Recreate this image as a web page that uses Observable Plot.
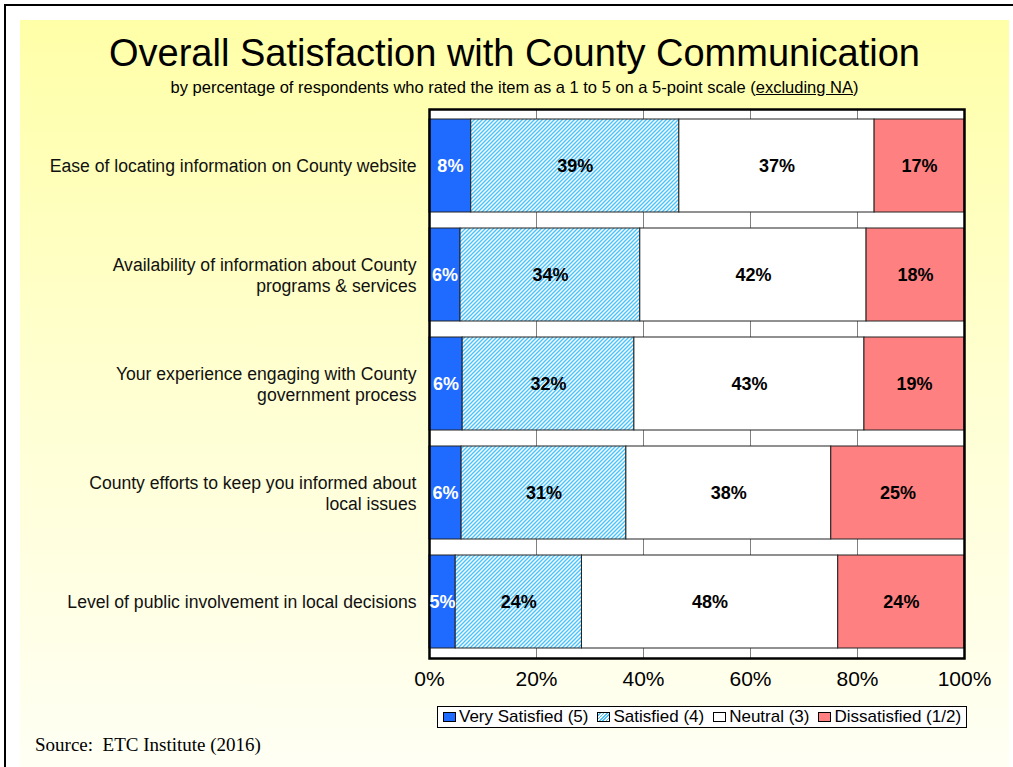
<!DOCTYPE html>
<html><head><meta charset="utf-8">
<script src="https://cdn.jsdelivr.net/npm/d3@7"></script>
<script src="https://cdn.jsdelivr.net/npm/@observablehq/plot@0.6"></script>
<style>
html,body{margin:0;padding:0;background:#fff;}
#wrap{position:relative;width:1013px;height:767px;overflow:hidden;font-family:"Liberation Sans",Arial,sans-serif;color:#000;}
#bg{position:absolute;left:20px;top:20px;width:989px;height:747px;background:linear-gradient(to bottom,#FFFFA8 0%,#FFFFD2 50%,#FFFFF4 100%);}
#bt{position:absolute;left:4px;top:4px;width:1009px;height:2px;background:#000;}
#bl{position:absolute;left:4px;top:4px;width:2px;height:763px;background:#000;}
#title{position:absolute;left:20px;width:989px;top:34px;text-align:center;font-size:38px;line-height:38px;white-space:nowrap;}
#sub{position:absolute;left:20px;width:989px;top:79px;text-align:center;font-size:16.5px;line-height:16.5px;white-space:nowrap;}
#chart{position:absolute;left:0;top:90px;}
#chart svg [aria-label^="x-axis"] text{font-size:21px;}
#legend{position:absolute;left:437px;top:706px;width:530px;height:22px;box-sizing:border-box;border:1px solid #000;background:#fff;display:flex;align-items:center;padding-left:5px;font-size:17px;white-space:nowrap;}
#legend .item{display:flex;align-items:center;margin-right:9px;}
#legend .sw{width:13px;height:10px;border:1px solid #000;margin-right:3px;box-sizing:border-box;}
#source{position:absolute;left:35px;top:735px;font-family:"Liberation Serif","Times New Roman",serif;font-size:19px;line-height:20px;white-space:nowrap;}
</style>
</head><body>
<div id="wrap">
  <div id="bg"></div><div id="bt"></div><div id="bl"></div>
  <div id="title">Overall Satisfaction with County Communication</div>
  <div id="sub">by percentage of respondents who rated the item as a 1 to 5 on a 5-point scale (<u>excluding NA</u>)</div>
  <div id="chart"></div>
  <div id="legend"></div>
  <div id="source">Source:&nbsp; ETC Institute (2016)</div>
</div>
<script>
const items = [
  "Ease of locating information on County website",
  "Availability of information about County\nprograms & services",
  "Your experience engaging with County\ngovernment process",
  "County efforts to keep you informed about\nlocal issues",
  "Level of public involvement in local decisions"
];
const categories = ["Very Satisfied (5)", "Satisfied (4)", "Neutral (3)", "Dissatisfied (1/2)"];
const verySatisfied = [7.8, 5.8, 6.2, 6.0, 4.9];
const satisfied     = [38.9, 33.6, 32.1, 30.8, 23.6];
const neutral       = [36.5, 42.3, 43.0, 38.3, 47.9];
const dissatisfied  = [16.8, 18.3, 18.7, 24.9, 23.6];
const xTicks = [0, 20, 40, 60, 80, 100];
const gridTicks = [20, 40, 60, 80];

const colors = ["#1F6BFF", "url(#hatch)", "#FFFFFF", "#FF8080"];
const series = [verySatisfied, satisfied, neutral, dissatisfied];
const rows = [];
items.forEach((item, i) => {
  categories.forEach((cat, j) => rows.push({item, cat, value: series[j][i]}));
});
const fmt = v => Math.round(v) + "%";

const chart = Plot.plot({
  width: 1013, height: 620,
  marginLeft: 429, marginRight: 49, marginTop: 19, marginBottom: 52,
  style: {background: "transparent", fontFamily: "'Liberation Sans', Arial, sans-serif", fontSize: "21px", overflow: "visible", color: "#000"},
  x: {domain: [0, 100], ticks: xTicks, tickFormat: d => d + "%", tickSize: 0, tickPadding: 13, label: null},
  y: {domain: items, axis: null, paddingInner: 0.15, paddingOuter: 0.08},
  color: {domain: categories, range: colors},
  marks: [
    Plot.frame({fill: "#fff", stroke: "none"}),
    Plot.ruleX(gridTicks, {stroke: "#808080", strokeWidth: 1}),
    Plot.barX(rows, Plot.stackX({x: "value", y: "item", fill: "cat", stroke: "#222", strokeWidth: 1})),
    Plot.frame({stroke: "#000", strokeWidth: 2.5}),
    Plot.text(rows, Plot.stackX({x: "value", y: "item", z: "cat",
      text: d => d.cat === categories[0] ? fmt(d.value) : null,
      fill: "white", fontWeight: "bold", fontSize: 18})),
    Plot.text(rows, Plot.stackX({x: "value", y: "item", z: "cat",
      text: d => d.cat !== categories[0] ? fmt(d.value) : null,
      fill: "black", fontWeight: "bold", fontSize: 18})),
    Plot.text(items, {y: d => d, text: d => d, frameAnchor: "left", textAnchor: "end", dx: -13,
      fontSize: 17.6, lineHeight: 1.15, fill: "#111"})
  ]
});

const svg = d3.select(chart);
const defs = svg.insert("defs", ":first-child");
const pat = defs.append("pattern").attr("id", "hatch").attr("patternUnits", "userSpaceOnUse")
  .attr("width", 4).attr("height", 4);
pat.append("rect").attr("width", 4).attr("height", 4).attr("fill", "#fff");
pat.append("path").attr("d", "M-1,1 l2,-2 M0,4 l4,-4 M3,5 l2,-2")
  .attr("stroke", "#45C2FF").attr("stroke-width", 1.4);
document.getElementById("chart").appendChild(chart);

const legend = d3.select("#legend");
const swatchBg = [
  "#1F6BFF",
  "repeating-linear-gradient(135deg,#fff 0 1.2px,#45C2FF 1.2px 2.4px)",
  "#fff",
  "#FF8080"
];
categories.forEach((c, i) => {
  const it = legend.append("div").attr("class", "item");
  it.append("div").attr("class", "sw").style("background", swatchBg[i]);
  it.append("span").text(c);
});
</script>
</body></html>
